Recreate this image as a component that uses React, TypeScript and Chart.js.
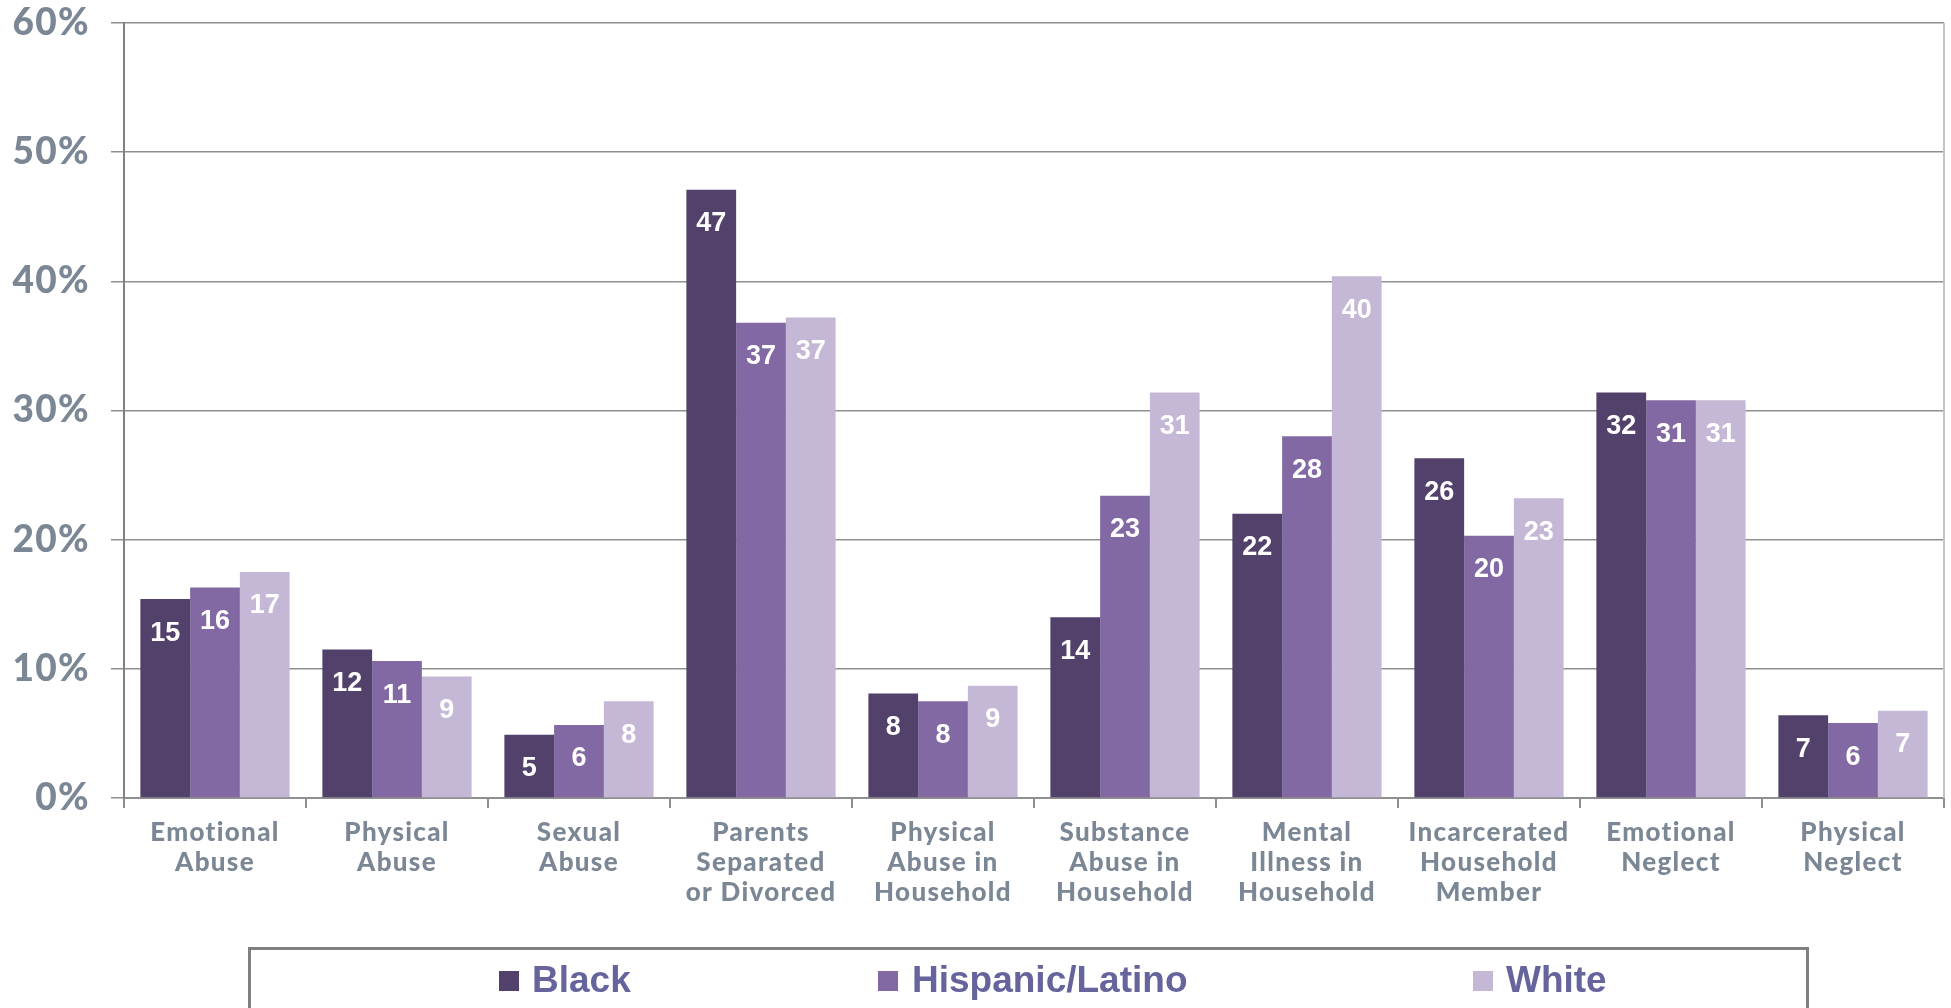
import React, { useEffect, useRef } from "react";
import { Chart, registerables } from "chart.js";

Chart.register(...registerables);

const categories: string[][] = [
  ["Emotional", "Abuse"],
  ["Physical", "Abuse"],
  ["Sexual", "Abuse"],
  ["Parents", "Separated", "or Divorced"],
  ["Physical", "Abuse in", "Household"],
  ["Substance", "Abuse in", "Household"],
  ["Mental", "Illness in", "Household"],
  ["Incarcerated", "Household", "Member"],
  ["Emotional", "Neglect"],
  ["Physical", "Neglect"],
];

const blackValues = [15.4, 11.5, 4.9, 47.1, 8.1, 14.0, 22.0, 26.3, 31.4, 6.4];
const hispanicValues = [16.3, 10.6, 5.65, 36.8, 7.5, 23.4, 28.0, 20.3, 30.8, 5.8];
const whiteValues = [17.5, 9.4, 7.5, 37.2, 8.7, 31.4, 40.4, 23.2, 30.8, 6.75];

const blackLabels = ["15", "12", "5", "47", "8", "14", "22", "26", "32", "7"];
const hispanicLabels = ["16", "11", "6", "37", "8", "23", "28", "20", "31", "6"];
const whiteLabels = ["17", "9", "8", "37", "9", "31", "40", "23", "31", "7"];

const seriesNames = ["Black", "Hispanic/Latino", "White"];
const seriesColors = ["#52416B", "#8269A3", "#C5B8D6"];

const yTicks = [0, 10, 20, 30, 40, 50, 60];

const AXIS_TEXT = "#7B8794";

export default function App() {
  const ref = useRef<HTMLCanvasElement | null>(null);

  useEffect(() => {
    document.body.style.margin = "0";
    const canvas = ref.current;
    if (!canvas) return;

    const labelSets = [blackLabels, hispanicLabels, whiteLabels];

    const spacing = {
      id: "spacing",
      beforeInit(chart: any) {
        chart.ctx.letterSpacing = "1.3px";
      },
      beforeUpdate(chart: any) {
        chart.ctx.letterSpacing = "1.3px";
      },
      beforeDraw(chart: any) {
        chart.ctx.letterSpacing = "1.3px";
      },
    };

    const valueLabels = {
      id: "valueLabels",
      afterDatasetsDraw(chart: any) {
        const ctx = chart.ctx;
        ctx.save();
        ctx.letterSpacing = "0px";
        ctx.fillStyle = "#FFFFFF";
        ctx.font = "bold 27px 'Liberation Sans', Arial, sans-serif";
        ctx.textAlign = "center";
        ctx.textBaseline = "middle";
        chart.data.datasets.forEach((_ds: any, di: number) => {
          const meta = chart.getDatasetMeta(di);
          meta.data.forEach((bar: any, i: number) => {
            ctx.fillText(labelSets[di][i], bar.x, bar.y + 34);
          });
        });
        ctx.restore();
      },
    };

    const frame = {
      id: "frame",
      afterDraw(chart: any) {
        const ctx = chart.ctx;
        const a = chart.chartArea;
        ctx.save();
        ctx.letterSpacing = "0px";
        ctx.strokeStyle = "#C4C4C4";
        ctx.lineWidth = 2;
        ctx.beginPath();
        ctx.moveTo(a.right, a.top);
        ctx.lineTo(a.right, a.bottom);
        ctx.stroke();

        // legend box
        ctx.strokeStyle = "#808080";
        ctx.lineWidth = 3;
        ctx.strokeRect(249.5, 948.5, 1558, 80);

        const items = [
          { sx: 499, tx: 532 },
          { sx: 878, tx: 912 },
          { sx: 1473, tx: 1506 },
        ];
        ctx.font = "bold 37px 'Liberation Sans', Arial, sans-serif";
        ctx.textBaseline = "middle";
        ctx.textAlign = "left";
        items.forEach((it, i) => {
          ctx.fillStyle = seriesColors[i];
          ctx.fillRect(it.sx, 971, 20, 20);
          ctx.fillStyle = "#65649D";
          ctx.fillText(seriesNames[i], it.tx, 982);
        });
        ctx.restore();
      },
    };

    const chart = new Chart(canvas, {
      type: "bar",
      data: {
        labels: categories,
        datasets: [
          { label: seriesNames[0], data: blackValues, backgroundColor: seriesColors[0] },
          { label: seriesNames[1], data: hispanicValues, backgroundColor: seriesColors[1] },
          { label: seriesNames[2], data: whiteValues, backgroundColor: seriesColors[2] },
        ],
      },
      options: {
        responsive: false,
        animation: false,
        layout: { padding: { top: 23, right: 7, left: 0, bottom: 0 } },
        datasets: {
          bar: { categoryPercentage: 0.82, barPercentage: 1.0, borderWidth: 0 },
        },
        plugins: {
          legend: { display: false },
          tooltip: { enabled: false },
          title: { display: false },
        },
        scales: {
          x: {
            grid: {
              drawOnChartArea: false,
              drawTicks: true,
              tickLength: 10,
              color: "#8F8F8F",
              lineWidth: 2,
              offset: true,
            },
            border: { display: true, color: "#8F8F8F", width: 2 },
            ticks: {
              color: AXIS_TEXT,
              font: { family: "Lato", weight: "900", size: 26, lineHeight: 1.15 },
              padding: 10,
              maxRotation: 0,
              autoSkip: false,
            },
            afterFit(scale: any) {
              scale.height = 210;
              scale.paddingLeft = 0;
              scale.paddingRight = 0;
              scale.paddingTop = 0;
              scale.paddingBottom = 0;
            },
          },
          y: {
            min: 0,
            max: 60,
            afterBuildTicks(scale: any) {
              scale.ticks = yTicks.map((v) => ({ value: v }));
            },
            grid: {
              color: "#8F8F8F",
              lineWidth: 1.5,
              tickLength: 13,
              drawTicks: true,
            },
            border: { display: true, color: "#808080", width: 2 },
            ticks: {
              color: AXIS_TEXT,
              font: { family: "Lato", weight: "900", size: 37 },
              padding: 21,
              callback: (v: any) => `${v}%`,
            },
            afterFit(scale: any) {
              scale.width = 124;
              scale.paddingTop = 0;
              scale.paddingBottom = 0;
              scale.paddingLeft = 0;
              scale.paddingRight = 0;
            },
          },
        },
      },
      plugins: [spacing, valueLabels, frame],
    });

    return () => chart.destroy();
  }, []);

  return <canvas ref={ref} width={1951} height={1008} style={{ display: "block" }} />;
}
